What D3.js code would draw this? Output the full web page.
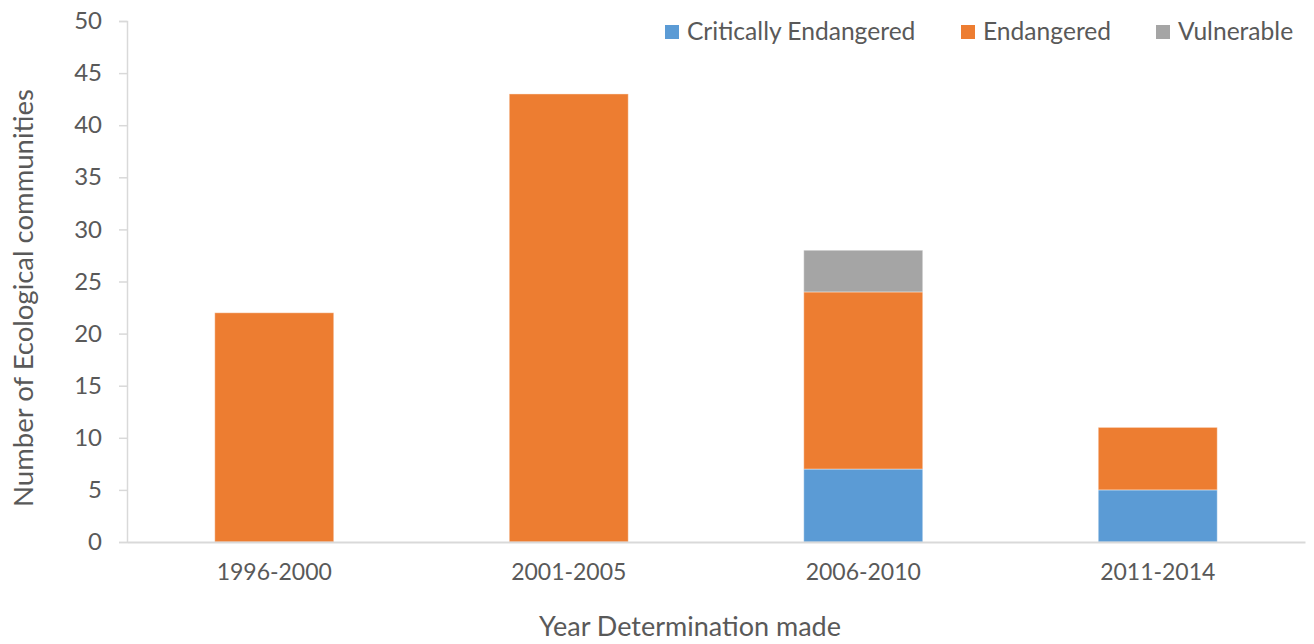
<!DOCTYPE html>
<html><head><meta charset="utf-8">
<script src="https://cdn.jsdelivr.net/npm/d3@7"></script>
<style>body{margin:0;background:#fff;} text{font-family:Lato, "Open Sans", sans-serif;}</style>
</head><body>
<svg id="chart" width="1314" height="644"></svg>
<script>
const categories = ["1996-2000","2001-2005","2006-2010","2011-2014"];
const criticallyEndangered = [0,0,7,5];
const endangered = [22,43,17,6];
const vulnerable = [0,0,4,0];
const seriesNames = ["Critically Endangered","Endangered","Vulnerable"];
const yTicks = [0,5,10,15,20,25,30,35,40,45,50];
const colors = ["#5B9BD5","#ED7D31","#A5A5A5"];

const svg = d3.select("#chart");
const mLeft = 127, mRight = 1305, mTop = 21, mBottom = 542;
const x = d3.scaleBand().domain(categories).range([mLeft,mRight]).paddingInner(0.596).paddingOuter(0.298);
const y = d3.scaleLinear().domain([0,50]).range([mBottom,mTop]);

const rows = categories.map((c,i)=>({cat:c,"Critically Endangered":criticallyEndangered[i],"Endangered":endangered[i],"Vulnerable":vulnerable[i]}));
const stack = d3.stack().keys(seriesNames)(rows);

// axes
const yAxis = svg.append("g").attr("transform",`translate(${mLeft},0)`)
  .call(d3.axisLeft(y).tickValues(yTicks).tickSize(8).tickPadding(17));
yAxis.select(".domain").attr("stroke","#d9d9d9").attr("stroke-width",1.5);
yAxis.selectAll(".tick line").attr("stroke","#d9d9d9").attr("stroke-width",1.5);
yAxis.selectAll(".tick text").attr("fill","#595959").style("font-size","24px").style("font-family","Lato");

svg.selectAll("g.layer").data(stack).join("g").attr("class","layer")
  .attr("fill",(d,i)=>colors[i])
  .selectAll("rect").data(d=>d).join("rect")
  .attr("x",d=>x(d.data.cat)).attr("width",x.bandwidth())
  .attr("y",d=>y(d[1])).attr("height",d=>y(d[0])-y(d[1]))
  .attr("stroke","rgba(255,255,255,0.4)").attr("stroke-width",1);

const xAxis = svg.append("g").attr("transform",`translate(0,${mBottom})`)
  .call(d3.axisBottom(x).tickSize(0).tickPadding(22));
xAxis.select(".domain").attr("stroke","#d9d9d9").attr("stroke-width",2);
xAxis.selectAll(".tick text").attr("fill","#595959").style("font-size","23px").style("font-family","Lato");

svg.append("text").attr("x",690).attr("y",636).attr("text-anchor","middle")
  .attr("fill","#595959").style("font-size","27px").text("Year Determination made");
svg.append("text").attr("transform","translate(33,298) rotate(-90)").attr("text-anchor","middle")
  .attr("fill","#595959").style("font-size","27.5px").text("Number of Ecological communities");

// legend
const legendX = [665, 961, 1156];
const lg = svg.append("g").selectAll("g").data(seriesNames).join("g")
  .attr("transform",(d,i)=>`translate(${legendX[i]},25)`);
lg.append("rect").attr("width",14).attr("height",14).attr("fill",(d,i)=>colors[i]);
lg.append("text").attr("x",22).attr("y",15).attr("fill","#595959").style("font-size","24.6px").text(d=>d);
</script>
</body></html>
